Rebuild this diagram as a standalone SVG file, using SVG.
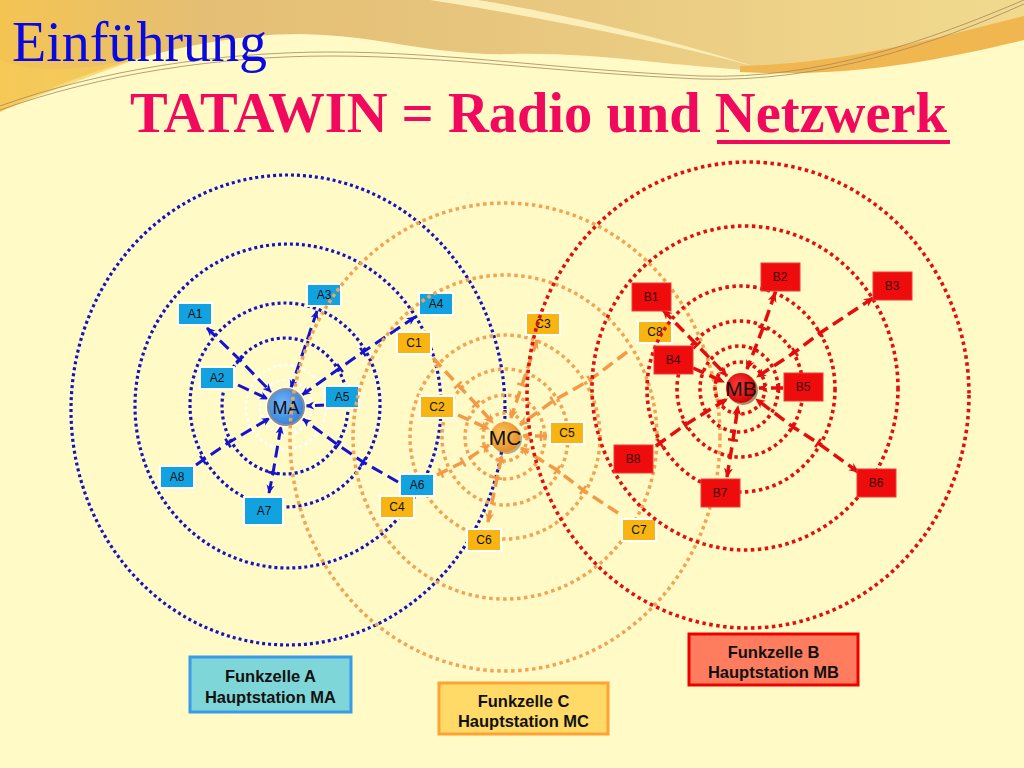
<svg xmlns="http://www.w3.org/2000/svg" width="1024" height="768" viewBox="0 0 1024 768">
<defs>
<linearGradient id="gold" x1="0" y1="0" x2="1" y2="0">
<stop offset="0" stop-color="#f4c452"/>
<stop offset="0.2" stop-color="#e4be74"/>
<stop offset="0.5" stop-color="#e8c67e"/>
<stop offset="0.8" stop-color="#eed389"/>
<stop offset="1" stop-color="#f0da8e"/>
</linearGradient>
<radialGradient id="gMA" cx="0.4" cy="0.4" r="0.65"><stop offset="0" stop-color="#74b4f6"/><stop offset="1" stop-color="#2e7edc"/></radialGradient>
<radialGradient id="gMC" cx="0.4" cy="0.4" r="0.65"><stop offset="0" stop-color="#ffc45e"/><stop offset="1" stop-color="#e48c22"/></radialGradient>
<radialGradient id="gMB" cx="0.4" cy="0.4" r="0.65"><stop offset="0" stop-color="#ff3a3a"/><stop offset="1" stop-color="#d00000"/></radialGradient>
<marker id="aA" viewBox="0 0 10 10" refX="9" refY="5" markerWidth="9" markerHeight="9" markerUnits="userSpaceOnUse" orient="auto-start-reverse"><path d="M0,0.5 L10,5 L0,9.5 L3,5 Z" fill="#1414d0"/></marker>
<marker id="aC" viewBox="0 0 10 10" refX="9" refY="5" markerWidth="10" markerHeight="10" markerUnits="userSpaceOnUse" orient="auto-start-reverse"><path d="M0,0.5 L10,5 L0,9.5 L3,5 Z" fill="#f29a48"/></marker>
<marker id="aB" viewBox="0 0 10 10" refX="9" refY="5" markerWidth="10" markerHeight="10" markerUnits="userSpaceOnUse" orient="auto-start-reverse"><path d="M0,0.5 L10,5 L0,9.5 L3,5 Z" fill="#e40c0c"/></marker>
<marker id="tA" viewBox="-2 -6 4 12" refX="0" refY="0" markerWidth="4" markerHeight="12" markerUnits="userSpaceOnUse" orient="auto"><line x1="0" y1="-5" x2="0" y2="5" stroke="#1414d0" stroke-width="2.5"/></marker>
<marker id="tC" viewBox="-2 -6 4 12" refX="0" refY="0" markerWidth="4" markerHeight="12" markerUnits="userSpaceOnUse" orient="auto"><line x1="0" y1="-5" x2="0" y2="5" stroke="#f29a48" stroke-width="2.5"/></marker>
<marker id="tB" viewBox="-2 -6 4 12" refX="0" refY="0" markerWidth="4" markerHeight="12" markerUnits="userSpaceOnUse" orient="auto"><line x1="0" y1="-5" x2="0" y2="5" stroke="#e40c0c" stroke-width="2.5"/></marker>
</defs>
<style>
.ringA{fill:none;stroke:#1414c4;stroke-width:3.2;stroke-dasharray:3 3}
.ringW{fill:none;stroke:#ffffff;stroke-width:2.5;stroke-dasharray:3 3}
.ringC{fill:none;stroke:#f2a454;stroke-width:3.5;stroke-dasharray:3.5 3.5}
.ringB{fill:none;stroke:#e01010;stroke-width:3.6;stroke-dasharray:3.5 3.5}
.conA{fill:none;stroke:#1414d0;stroke-width:3;stroke-dasharray:12 6;marker-mid:url(#tA);marker-end:url(#aA)}
.conC{fill:none;stroke:#f29a48;stroke-width:3.5;stroke-dasharray:12 6;marker-mid:url(#tC);marker-end:url(#aC)}
.conB{fill:none;stroke:#e40c0c;stroke-width:3.5;stroke-dasharray:12 6;marker-mid:url(#tB);marker-end:url(#aB)}
.conA.both{marker-start:url(#aA)}
.conC.both{marker-start:url(#aC)}
.conB.both{marker-start:url(#aB)}
.bA{fill:#13a2e0;stroke:#ffffff;stroke-width:2}
.bC{fill:#f8b512;stroke:#ffffff;stroke-width:2}
.bB{fill:#ee0c0c;stroke:#f03a3a;stroke-width:1}
.lbl{font-family:"Liberation Sans",Arial,sans-serif;font-size:12px;text-anchor:middle;fill:#111111}
.lblB{font-family:"Liberation Sans",Arial,sans-serif;font-size:12px;text-anchor:middle;fill:#3a0000}
.stn{font-family:"Liberation Sans",Arial,sans-serif;text-anchor:middle;fill:#111111}
.leg{font-family:"Liberation Sans",Arial,sans-serif;font-size:16.5px;font-weight:bold;text-anchor:middle;fill:#111111}
.thin{fill:none;stroke:#a8865a;stroke-width:0.8}
</style>

<!-- background -->
<rect x="0" y="0" width="1024" height="768" fill="#fffac6"/>
<path d="M0,0 H1024 V20 C940,55 860,76 780,72 C680,68 600,52 512,54 C430,56 380,35 300,34 C200,34 80,70 0,112 Z" fill="url(#gold)"/>
<path d="M0,60 C40,75 80,70 140,58 C80,80 40,95 0,112 Z" fill="#f6cc5a" opacity="0.7"/>
<path d="M430,0 C520,14 650,38 760,68 C640,30 540,10 478,0 Z" fill="#fdf2bf" opacity="0.9"/>
<path d="M740,66 C840,64 930,40 1024,16 V40 C940,60 850,78 740,72 Z" fill="#f0b650"/>
<path d="M0,106 C100,70 220,52 330,52 C450,52 560,70 700,76 C820,80 930,40 1024,0" class="thin"/>
<path d="M0,110 C100,74 220,56 330,56 C450,56 560,73 700,79 C820,83 935,44 1024,4" class="thin"/>

<!-- titles -->
<text x="12" y="61" font-family="'Liberation Serif','Times New Roman',serif" font-size="56" fill="#0a0ae0" textLength="255" lengthAdjust="spacingAndGlyphs">Einführung</text>
<text x="130" y="132" font-family="'Liberation Serif','Times New Roman',serif" font-size="57" font-weight="bold" fill="#f0095c" textLength="817" lengthAdjust="spacingAndGlyphs">TATAWIN = Radio und Netzwerk</text>
<line x1="717" y1="142" x2="950" y2="142" stroke="#f0095c" stroke-width="4"/>

<!-- Cell A rings -->
<g id="rings-a">
<ellipse class="ringA" cx="288" cy="410" rx="217" ry="235"/>
<ellipse class="ringA" cx="288" cy="406" rx="153" ry="162"/>
<ellipse class="ringA" cx="285" cy="405" rx="95" ry="102"/>
<ellipse class="ringA" cx="285" cy="406" rx="63" ry="68"/>
<ellipse class="ringW" cx="286" cy="407" rx="40" ry="42"/>
<ellipse class="ringW" cx="286" cy="407" rx="26" ry="27"/>
</g>
<g id="connectors-a">
<path class="conA both" d="M207,328 L240,360 L271,392"/>
<path class="conA" d="M238,385 L268,399"/>
<path class="conA both" d="M317,311 L291,388"/>
<path class="conA both" d="M415,317 L363,352 L340,368 L302,395"/>
<path class="conA" d="M327,405 L306,406"/>
<path class="conA" d="M398,482 L363,462 L338,445 L303,419"/>
<path class="conA both" d="M269,493 L273,473 L281,426"/>
<path class="conA" d="M196,465 L203,460 L228,443 L270,418"/>
</g>
<g id="node-A1"><rect class="bA" x="178" y="303" width="34" height="22"/><text class="lbl" x="195" y="318">A1</text></g>
<g id="node-A2"><rect class="bA" x="200" y="367" width="34" height="22"/><text class="lbl" x="217" y="382">A2</text></g>
<g id="node-A3"><rect class="bA" x="307" y="284" width="34" height="22"/><text class="lbl" x="324" y="299">A3</text></g>
<g id="node-A4"><rect class="bA" x="419" y="293" width="34" height="22"/><text class="lbl" x="436" y="308">A4</text></g>
<g id="node-A5"><rect class="bA" x="325" y="386" width="34" height="22"/><text class="lbl" x="342" y="401">A5</text></g>
<g id="node-A7"><rect class="bA" x="244" y="497" width="39" height="28"/><text class="lbl" x="264" y="515">A7</text></g>
<g id="node-A8"><rect class="bA" x="160" y="466" width="34" height="22"/><text class="lbl" x="177" y="481">A8</text></g>
<g id="node-MA">
<circle cx="286" cy="407" r="20.5" fill="#ffffff"/>
<circle cx="286" cy="407" r="18" fill="url(#gMA)" stroke="#8c8c8c" stroke-width="2"/>
<text class="stn" x="286" y="414" font-size="18">MA</text>
</g>

<!-- Cell C rings -->
<g id="rings-c">
<ellipse class="ringC" cx="505" cy="437" rx="215" ry="234"/>
<ellipse class="ringC" cx="505" cy="437" rx="152" ry="162"/>
<ellipse class="ringC" cx="505" cy="437" rx="95" ry="102"/>
<ellipse class="ringC" cx="505" cy="437" rx="63" ry="68"/>
<ellipse class="ringC" cx="505" cy="437" rx="40" ry="42"/>
<ellipse class="ringC" cx="505" cy="437" rx="22" ry="24"/>
</g>
<g id="connectors-c">
<path class="conC" d="M433,358 L458,385 L476,404 L493,423"/>
<path class="conC" d="M458,415 L489,429"/>
<path class="conC both" d="M537,340 L522,385 L511,418"/>
<path class="conC" d="M437,475 L441,473 L463,462 L489,445"/>
<path class="conC" d="M547,436 L541,436 L523,436"/>
<path class="conC both" d="M488,522 L497,478 L502,455"/>
<path class="conC" d="M618,513 L583,490 L557,470 L521,448"/>
<path class="conC" d="M627,352 L590,380 L553,401 L520,425"/>
</g>
<g id="node-A6"><rect class="bA" x="400" y="474" width="34" height="22"/><text class="lbl" x="417" y="489">A6</text></g>
<g id="node-C1"><rect class="bC" x="397" y="332" width="34" height="22"/><text class="lbl" x="414" y="347">C1</text></g>
<g id="node-C2"><rect class="bC" x="420" y="396" width="34" height="22"/><text class="lbl" x="437" y="411">C2</text></g>
<g id="node-C3"><rect class="bC" x="526" y="313" width="34" height="22"/><text class="lbl" x="543" y="328">C3</text></g>
<g id="node-C4"><rect class="bC" x="380" y="496" width="34" height="22"/><text class="lbl" x="397" y="511">C4</text></g>
<g id="node-C5"><rect class="bC" x="550" y="422" width="34" height="22"/><text class="lbl" x="567" y="437">C5</text></g>
<g id="node-C6"><rect class="bC" x="467" y="529" width="34" height="22"/><text class="lbl" x="484" y="544">C6</text></g>
<g id="node-C7"><rect class="bC" x="622" y="519" width="34" height="22"/><text class="lbl" x="639" y="534">C7</text></g>
<g id="node-C8"><rect class="bC" x="638" y="321" width="34" height="22"/><text class="lbl" x="655" y="336">C8</text></g>
<g id="node-MC">
<circle cx="507" cy="439" r="15" fill="#8a6a4a" opacity="0.55"/>
<circle cx="505" cy="437" r="15" fill="url(#gMC)"/>
<text class="stn" x="505" y="444.5" font-size="21">MC</text>
</g>

<!-- Cell B rings -->
<g id="rings-b">
<ellipse class="ringB" cx="748" cy="395" rx="221" ry="233"/>
<ellipse class="ringB" cx="745" cy="388" rx="153" ry="162"/>
<ellipse class="ringB" cx="741" cy="389" rx="94" ry="103"/>
<ellipse class="ringB" cx="740" cy="389" rx="63" ry="68"/>
<ellipse class="ringB" cx="739" cy="389" rx="39" ry="43"/>
<ellipse class="ringB" cx="740" cy="388" rx="25" ry="26"/>
</g>
<g id="connectors-b">
<path class="conB both" d="M663,310 L697,345 L727,376"/>
<path class="conB both" d="M775,293 L763,328 L747,369"/>
<path class="conB both" d="M873,298 L820,333 L795,352 L757,377"/>
<path class="conB" d="M693,368 L724,382"/>
<path class="conB" d="M783,388 L779,388 L759,388"/>
<path class="conB both" d="M858,472 L818,443 L793,427 L756,399"/>
<path class="conB both" d="M727,477 L733,440 L738,406"/>
<path class="conB" d="M656,446 L660,443 L685,425 L727,399"/>
</g>
<g id="node-B1"><rect class="bB" x="632" y="283" width="39" height="28"/><text class="lblB" x="651" y="301">B1</text></g>
<g id="node-B2"><rect class="bB" x="761" y="263" width="39" height="28"/><text class="lblB" x="780" y="281">B2</text></g>
<g id="node-B3"><rect class="bB" x="873" y="272" width="39" height="28"/><text class="lblB" x="892" y="290">B3</text></g>
<g id="node-B4"><rect class="bB" x="654" y="346" width="39" height="28"/><text class="lblB" x="673" y="364">B4</text></g>
<g id="node-B5"><rect class="bB" x="784" y="373" width="39" height="28"/><text class="lblB" x="803" y="391">B5</text></g>
<g id="node-B6"><rect class="bB" x="857" y="469" width="39" height="28"/><text class="lblB" x="876" y="487">B6</text></g>
<g id="node-B7"><rect class="bB" x="701" y="479" width="39" height="28"/><text class="lblB" x="720" y="497">B7</text></g>
<g id="node-B8"><rect class="bB" x="614" y="445" width="39" height="28"/><text class="lblB" x="633" y="463">B8</text></g>
<g id="node-MB">
<circle cx="743" cy="390" r="15" fill="#6a2a2a" opacity="0.55"/>
<circle cx="741" cy="388" r="15" fill="url(#gMB)"/>
<text class="stn" x="741" y="395.5" font-size="21">MB</text>
</g>

<!-- legend -->
<g id="legend-a">
<rect x="190" y="657" width="161" height="55" fill="#7fd6d8" stroke="#3a9aea" stroke-width="3"/>
<text class="leg" x="270.5" y="682">Funkzelle A</text>
<text class="leg" x="270.5" y="703">Hauptstation MA</text>
</g>
<g id="legend-c">
<rect x="439" y="683" width="169" height="51" fill="#ffda66" stroke="#ffa234" stroke-width="3"/>
<text class="leg" x="523.5" y="707">Funkzelle C</text>
<text class="leg" x="523.5" y="727">Hauptstation MC</text>
</g>
<g id="legend-b">
<rect x="689" y="634" width="169" height="51" fill="#ff7d5e" stroke="#ee0000" stroke-width="3"/>
<text class="leg" x="773.5" y="658">Funkzelle B</text>
<text class="leg" x="773.5" y="678">Hauptstation MB</text>
</g>
</svg>
